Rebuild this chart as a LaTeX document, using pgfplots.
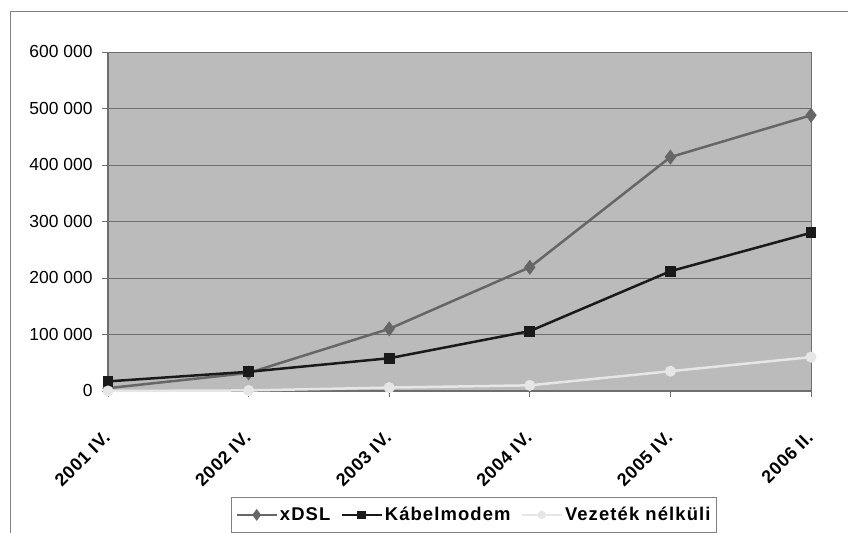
\documentclass[border=0pt]{standalone}
\usepackage{pgfplots}
\pgfplotsset{compat=1.18}
\usepackage{fontspec}
\setmainfont{Liberation Sans}
\newfontfamily\spfont[LetterSpace=4, BoldFont={Liberation Sans Bold}]{Liberation Sans}
\newfontfamily\lgfont[LetterSpace=6, BoldFont={Liberation Sans Bold}]{Liberation Sans}
\definecolor{plotbg}{RGB}{187,187,187}
\definecolor{gridc}{RGB}{110,110,110}
\definecolor{cdsl}{RGB}{102,102,102}
\definecolor{ckab}{RGB}{26,26,26}
\definecolor{cvez}{RGB}{230,230,230}
\definecolor{frame}{RGB}{128,128,128}
\begin{document}
\begin{tikzpicture}[x=1bp,y=1bp]
\useasboundingbox (0,0) rectangle (848,533);
\draw[frame, line width=0.8bp] (10,0) -- (10,522) -- (848,522);
\begin{axis}[
  at={(108bp,142bp)}, anchor=south west,
  scale only axis, width=703bp, height=339bp,
  xmin=0, xmax=5, ymin=0, ymax=600000,
  scaled y ticks=false,
  axis background/.style={fill=plotbg},
  xtick={0,...,5},
  xticklabels={2001 IV.,2002 IV.,2003 IV.,2004 IV.,2005 IV.,2006 II.},
  ytick={0,100000,200000,300000,400000,500000,600000},
  yticklabels={0,100~000,200~000,300~000,400~000,500~000,600~000},
  xticklabel style={rotate=45, anchor=north east, font=\fontsize{18}{20}\spfont\bfseries, xshift=-27bp, yshift=-19bp, inner sep=0pt},
  yticklabel style={font=\fontsize{17.5}{19}\selectfont, xshift=-6bp},
  tick align=outside, major tick length=6bp,
  tick style={gridc, line width=0.8bp},
  ymajorgrids, grid style={gridc, line width=0.9bp},
  axis x line*=bottom, axis y line*=left,
  x axis line style={-, gridc, line width=1.2bp},
  y axis line style={-, gridc, line width=1.2bp},
  clip=false,
  legend columns=3,
  legend style={at={(0.5206,-0.3127)}, anchor=north, draw=frame, line width=0.8bp,
    font=\fontsize{18.5}{21}\lgfont\bfseries, inner ysep=8bp, inner xsep=4bp,
    /tikz/every even column/.append style={column sep=8bp}},
  legend image code/.code={\draw[#1, mark=none] (0bp,0bp) -- (40bp,0bp); \draw[#1, mark options={scale=0.7}] plot coordinates {(20bp,0bp)};},
]
\draw[gridc, line width=0.9bp] (rel axis cs:1,0) -- (rel axis cs:1,1);
\addplot[cdsl, line width=2.5bp, mark=diamond*, mark size=5.5bp] coordinates {
(0,5000) (1,32000) (2,110000) (3,219000) (4,414000) (5,488000)};
\addlegendentry{xDSL}
\addplot[ckab, line width=2.5bp, mark=square*, mark size=4.2bp] coordinates {
(0,17000) (1,34000) (2,58000) (3,106000) (4,212000) (5,280000)};
\addlegendentry{Kábelmodem}
\addplot[cvez, line width=2.5bp, mark=*, mark size=4.2bp] coordinates {
(0,0) (1,1000) (2,6000) (3,10000) (4,35000) (5,60000)};
\addlegendentry{Vezeték nélküli}
\end{axis}
\end{tikzpicture}
\end{document}
